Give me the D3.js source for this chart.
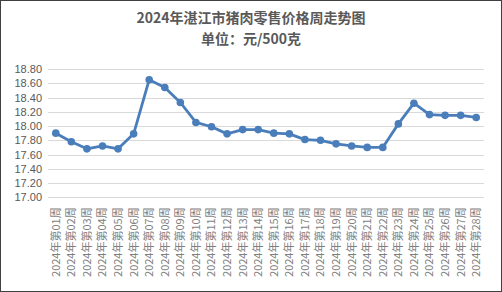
<!DOCTYPE html>
<html><head><meta charset="utf-8">
<script src="https://cdn.jsdelivr.net/npm/d3@7"></script>
<style>
html,body{margin:0;padding:0;background:#fff;}
svg text{font-family:"Noto Sans CJK SC","Liberation Sans",sans-serif;}
</style></head>
<body><svg id="c" width="502" height="292"></svg>
<script>
const weeks = ["01","02","03","04","05","06","07","08","09","10","11","12","13","14","15","16","17","18","19","20","21","22","23","24","25","26","27","28"];
const categories = weeks.map(w => "2024年第" + w + "周");
const prices = [17.90,17.78,17.68,17.72,17.68,17.89,18.65,18.54,18.33,18.05,17.99,17.89,17.95,17.95,17.90,17.89,17.81,17.80,17.75,17.72,17.70,17.70,18.03,18.32,18.16,18.15,18.15,18.12];
const yTicks = [17.00,17.20,17.40,17.60,17.80,18.00,18.20,18.40,18.60,18.80];
const titleLines = ["2024年湛江市猪肉零售价格周走势图","单位：元/500克"];

const svg = d3.select("#c");
svg.append("rect").attr("x",0.5).attr("y",0.5).attr("width",501).attr("height",291)
  .attr("fill","#fff").attr("stroke","#404040");

const x = d3.scaleBand().domain(categories).range([48,484]);
const y = d3.scaleLinear().domain([17,18.8]).range([197.3,69]);

// grid
svg.append("g").selectAll("line").data(yTicks).join("line")
  .attr("x1",48).attr("x2",484)
  .attr("y1",d=>Math.round(y(d))+0.5).attr("y2",d=>Math.round(y(d))+0.5)
  .attr("stroke","#d9d9d9").attr("stroke-width",1);

// y axis
const ya = svg.append("g").attr("transform","translate(48,0)")
  .call(d3.axisLeft(y).tickValues(yTicks).tickFormat(d3.format(".2f")).tickSize(0).tickPadding(6));
ya.select(".domain").remove();
ya.selectAll("text").attr("fill","#595959").style("font-size","11px").style("font-family","'Liberation Sans',sans-serif");

// x axis
const xa = svg.append("g").attr("transform","translate(0,197.3)")
  .call(d3.axisBottom(x).tickSize(0));
xa.select(".domain").remove();
xa.selectAll("text")
  .attr("transform","rotate(-90)")
  .attr("text-anchor","end")
  .attr("x",-10).attr("y",0).attr("dy","0.35em")
  .attr("fill","#7f7f7f").style("font-size","11px");

// line
const line = d3.line().x((d,i)=>x(categories[i])+x.bandwidth()/2).y(d=>y(d));
svg.append("path").datum(prices).attr("d",line)
  .attr("fill","none").attr("stroke","#4a7ebb").attr("stroke-width",2.8).attr("stroke-linejoin","round");
svg.append("g").selectAll("circle").data(prices).join("circle")
  .attr("cx",(d,i)=>x(categories[i])+x.bandwidth()/2).attr("cy",d=>y(d)).attr("r",3.8)
  .attr("fill","#4a7ebb");

// title
svg.append("g").selectAll("text").data(titleLines).join("text")
  .attr("x",251).attr("y",(d,i)=>23+i*21).attr("text-anchor","middle")
  .attr("fill","#595959").style("font-size","14px").style("font-weight","bold").text(d=>d);
</script></body></html>
